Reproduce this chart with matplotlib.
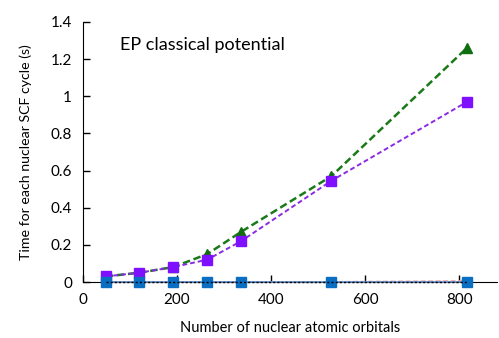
import matplotlib
matplotlib.use("Agg")
import matplotlib.pyplot as plt

plt.rcParams['font.family'] = ['Lato', 'DejaVu Sans']

n_ao = [48, 120, 191, 264, 336, 528, 816]
t_green = [0.03, 0.05, 0.08, 0.15, 0.27, 0.57, 1.26]
t_purple = [0.03, 0.05, 0.08, 0.12, 0.22, 0.545, 0.97]
t_red = [0.0, 0.0, 0.0, 0.0, 0.0, 0.001, 0.006]
t_black = [0.0, 0.0, 0.0, 0.0, 0.0, 0.0, 0.0]
t_blue = [0.0, 0.0, 0.0, 0.0, 0.0, 0.0, 0.0]

fig = plt.figure(figsize=(4.99, 3.38), dpi=100)
ax = fig.add_axes([83/499, 56/338, 414/499, 260/338])

ax.plot(n_ao, t_red, color='#f4a6a6', ls=(0, (3, 1.5)), lw=1.2, marker='o', ms=2.5, mfc='#e05050', mec='#e05050', zorder=2, clip_on=False)
ax.plot(n_ao, t_green, color='#1a7a1a', ls=(0, (3, 1.5)), lw=1.8, marker='^', ms=6.5, mfc='#0f6e0f', mec='#0f6e0f', zorder=3, clip_on=False)
ax.plot(n_ao, t_purple, color='#8a2be2', ls=(0, (2.5, 1.5)), lw=1.4, marker='s', ms=6.5, mfc='#7f10ff', mec='#7f10ff', zorder=4, clip_on=False)
ax.plot(n_ao, t_blue, color='#5b8fd0', ls='-', lw=1.2, marker='s', ms=7, mfc='#0a6fc2', mec='#0a6fc2', zorder=5, clip_on=False)
ax.plot(n_ao, t_black, color='black', ls=(0, (1.5, 1.5)), lw=1.0, zorder=6, clip_on=False)

ax.set_xlim(0, 880)
ax.set_ylim(0, 1.4)
ax.set_xticks([0, 200, 400, 600, 800])
ax.set_yticks([0, 0.2, 0.4, 0.6, 0.8, 1.0, 1.2, 1.4])
ax.set_yticklabels(['0', '0.2', '0.4', '0.6', '0.8', '1', '1.2', '1.4'])
for s in ['top', 'right']:
    ax.spines[s].set_visible(False)
ax.spines['left'].set_color('black')
ax.spines['bottom'].set_color('black')
ax.tick_params(direction='in', length=5, width=1, labelsize=11, pad=8, colors='black')

ax.set_xlabel('Number of nuclear atomic orbitals', fontsize=10.5, labelpad=10)
ax.set_ylabel('Time for each nuclear SCF cycle (s)', fontsize=10.2, labelpad=13)
ax.text(0.09, 0.91, 'EP classical potential', transform=ax.transAxes, fontsize=13, va='center', ha='left')

fig.savefig('out.png', dpi=100)
